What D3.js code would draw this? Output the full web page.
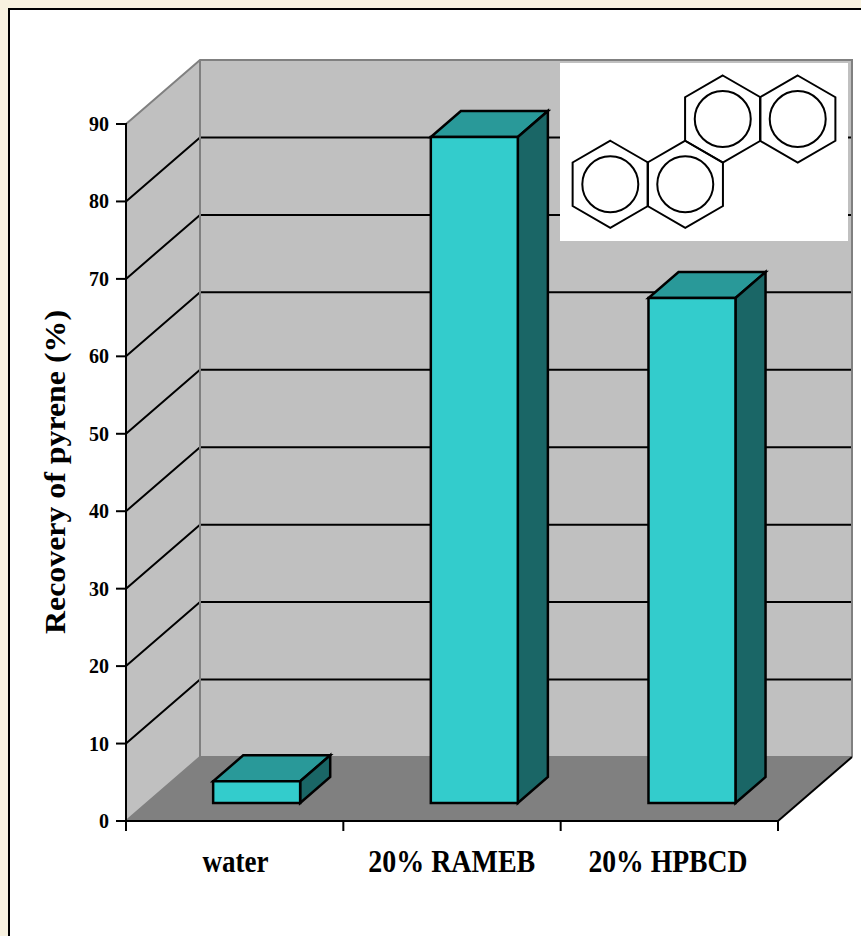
<!DOCTYPE html>
<html>
<head>
<meta charset="utf-8">
<script src="https://cdn.jsdelivr.net/npm/d3@7"></script>
<style>
  html, body { margin: 0; padding: 0; background: #f8f2e0; overflow: hidden; }
  text { font-family: "Liberation Serif", serif; font-weight: bold; fill: #000; }
</style>
</head>
<body>
<script>
// Recovery of pyrene from each washing solution (%)
const categories = ["water", "20% RAMEB", "20% HPBCD"];
const recovery = [2.8, 86, 65.2];
const valueTicks = [0, 10, 20, 30, 40, 50, 60, 70, 80, 90];
const yTitle = "Recovery of pyrene (%)";

// Fused rings of the structure inset, as [column, row] on a hexagonal lattice
const rings = [[0, 1], [1, 1], [1.5, 0], [2.5, 0]];

const W = 861, H = 936;
const svg = d3.select("body").append("svg")
  .attr("width", W).attr("height", H).style("display", "block");

// Paper with its black frame
svg.append("rect").attr("x", 9).attr("y", 9).attr("width", W + 20).attr("height", H + 20)
  .attr("fill", "#fff").attr("stroke", "#000").attr("stroke-width", 2);

// Front plane scales and the oblique depth vector of the 3-D box
const y = d3.scaleLinear().domain([0, 90]).range([821, 124]);
const x = d3.scaleBand().domain(categories).range([126, 778]);
const xBar = d3.scaleBand().domain(categories).range([127, 780]);
const xLabel = d3.scaleBand().domain(categories).range([127.5, 776]);
const depth = { dx: 74, dy: -64 };
const project = (px, py, t) => [px + depth.dx * t, py + depth.dy * t];
const pts = a => a.map(p => p.join(",")).join(" ");

const x0 = x.range()[0], x1 = x.range()[1];
const yBase = y(0), yTop = y(90);

// Walls and floor
svg.append("polygon").attr("fill", "#c0c0c0")
  .attr("points", pts([project(x0, yBase, 1), project(x1, yBase, 1), project(x1, yTop, 1), project(x0, yTop, 1)]));
svg.append("polygon").attr("fill", "#c0c0c0")
  .attr("points", pts([[x0, yBase], project(x0, yBase, 1), project(x0, yTop, 1), [x0, yTop]]));
svg.append("polygon").attr("fill", "#808080")
  .attr("points", pts([[x0, yBase], [x1, yBase], project(x1, yBase, 1), project(x0, yBase, 1)]));

// Gridlines run across the left wall and along the back wall
const grid = svg.append("g").attr("fill", "none").attr("stroke", "#000").attr("stroke-width", 2);
valueTicks.filter(v => v > 0 && v < 90).forEach(v => {
  grid.append("polyline").attr("points", pts([[x0, y(v)], project(x0, y(v), 1), project(x1, y(v), 1)]));
});

// Grey wall edges
const edges = svg.append("g").attr("fill", "none").attr("stroke", "#808080").attr("stroke-width", 2);
edges.append("polyline").attr("points", pts([[x0, yTop], project(x0, yTop, 1), project(x1, yTop, 1), project(x1, yBase, 1)]));
edges.append("polyline").attr("points", pts([[x0, yBase], project(x0, yBase, 1), project(x1, yBase, 1)]));
edges.append("line")
  .attr("x1", project(x0, yTop, 1)[0]).attr("y1", project(x0, yTop, 1)[1])
  .attr("x2", project(x0, yBase, 1)[0]).attr("y2", project(x0, yBase, 1)[1]);

// Right floor edge
svg.append("line").attr("stroke", "#000").attr("stroke-width", 2)
  .attr("x1", x1).attr("y1", yBase)
  .attr("x2", project(x1, yBase, 1)[0]).attr("y2", project(x1, yBase, 1)[1]);

// Bars: a box from 0.28 to 0.69 of the depth
const barW = 87, tFront = 18 / 64, tBack = 44 / 64;
const bars = svg.append("g").attr("stroke", "#000").attr("stroke-width", 2.5).attr("stroke-linejoin", "miter");
categories.forEach((c, i) => {
  const v = recovery[i];
  const cx = xBar(c) + xBar.bandwidth() / 2;
  const left = cx - barW / 2, right = cx + barW / 2;
  const F = (px, val) => project(px, y(val), tFront);
  const B = (px, val) => project(px, y(val), tBack);
  bars.append("polygon").attr("fill", "#299999")
    .attr("points", pts([F(left, v), F(right, v), B(right, v), B(left, v)]));
  bars.append("polygon").attr("fill", "#1a6666")
    .attr("points", pts([F(right, 0), B(right, 0), B(right, v), F(right, v)]));
  bars.append("polygon").attr("fill", "#33cccc")
    .attr("points", pts([F(left, 0), F(right, 0), F(right, v), F(left, v)]));
});

// Axes drawn by d3 on the front plane
const yAxis = d3.axisLeft(y).offset(0).tickValues(valueTicks).tickSize(10).tickPadding(7).tickFormat(d3.format("d"));
const gy = svg.append("g").attr("transform", `translate(${x0},0)`).call(yAxis);
gy.selectAll("text")
  .style("font-size", "22px")
  .attr("textLength", d => (d === 0 ? 10 : 20))
  .attr("lengthAdjust", "spacingAndGlyphs");

const xTicks = d3.scaleLinear().domain([0, categories.length]).range([x0, x1]);
const xAxis = d3.axisBottom(xTicks).offset(0).tickValues(d3.range(categories.length + 1)).tickSize(10).tickFormat("");
const gx = svg.append("g").attr("transform", `translate(0,${yBase})`).call(xAxis);
[gy, gx].forEach(g => {
  g.select(".domain").attr("stroke", "#000").attr("stroke-width", 2);
  g.selectAll(".tick line").attr("stroke", "#000").attr("stroke-width", 2);
});

// Category labels, set condensed
svg.append("g").selectAll("text").data(categories).join("text")
  .attr("x", d => xLabel(d) + xLabel.bandwidth() / 2)
  .attr("y", 872)
  .attr("text-anchor", "middle")
  .style("font-size", "32px")
  .attr("textLength", (d, i) => [66, 167, 159][i])
  .attr("lengthAdjust", "spacingAndGlyphs")
  .text(d => d);

// Axis title
svg.append("text")
  .attr("transform", "translate(65,472) rotate(-90)")
  .attr("text-anchor", "middle")
  .style("font-size", "30px")
  .attr("textLength", 324)
  .attr("lengthAdjust", "spacingAndGlyphs")
  .text(yTitle);

// Structure inset
const inset = svg.append("g");
inset.append("rect").attr("x", 560).attr("y", 63).attr("width", 288).attr("height", 178).attr("fill", "#fff");

const ringR = 43.5, circleR = 28;
const ringStep = ringR * Math.sqrt(3);
const ringX = d3.scaleLinear().domain([0, 1]).range([610.3, 610.3 + ringStep * 0.995]);
const ringY = d3.scaleLinear().domain([0, 1]).range([119, 119 + ringR * 1.5]);
const hex = d3.range(6).map(k => {
  const a = Math.PI / 3 * k;
  return [ringR * Math.sin(a), -ringR * Math.cos(a)];
});
const ringG = inset.selectAll("g").data(rings).join("g")
  .attr("transform", d => `translate(${ringX(d[0])},${ringY(d[1])})`)
  .attr("fill", "none").attr("stroke", "#000").attr("stroke-width", 2);
ringG.append("polygon").attr("points", pts(hex));
ringG.append("circle").attr("r", circleR);
</script>
</body>
</html>
